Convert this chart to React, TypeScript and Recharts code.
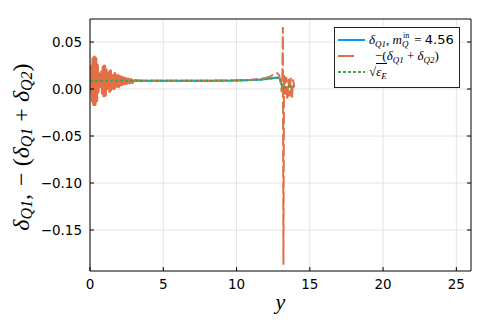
import React from "react";
import {
  LineChart,
  Line,
  XAxis,
  YAxis,
  CartesianGrid,
  Legend,
  Label,
} from "recharts";

// x positions / values
const burstX = [
  0, 0.05, 0.1, 0.15, 0.2, 0.25, 0.3, 0.35, 0.4, 0.45, 0.5, 0.55, 0.6, 0.65, 0.7, 0.75, 0.8, 0.85, 0.9, 0.95,
  1.0, 1.05, 1.1, 1.15, 1.2, 1.25, 1.3, 1.35, 1.4, 1.45, 1.5, 1.55, 1.6, 1.65, 1.7, 1.75, 1.8, 1.85, 1.9, 1.95,
  2.0, 2.05, 2.1, 2.15, 2.2, 2.25, 2.3, 2.35, 2.4, 2.5, 2.6, 2.7, 2.8, 2.9, 3.0,
];
const burstY = [
  0.0125, -0.0015, 0.0245, -0.0125, 0.0325, -0.0165, 0.034, -0.0165, 0.0325, -0.0125, 0.0255, -0.0035, 0.0165, 0.0035, 0.0125, 0.0025, 0.0185, -0.0045, 0.0235, -0.0075,
  0.0245, -0.0065, 0.0205, 0.0005, 0.0135, 0.0025, 0.0175, -0.0025, 0.0195, -0.0005, 0.0145, 0.0045, 0.0145, 0.0005, 0.0165, 0.0025, 0.0125, 0.0035, 0.0145, 0.0025,
  0.0135, 0.0045, 0.0125, 0.0045, 0.0125, 0.0055, 0.0115, 0.0055, 0.0115, 0.006, 0.0105, 0.0065, 0.01, 0.007, 0.0095,
];

const sumX = [
  3.0, 3.5, 4, 5, 6, 7, 8, 9, 10, 10.5, 11, 11.5, 12, 12.3, 12.6, 12.75, 12.9, 13.0, 13.08, 13.12, 13.16, 13.2,
  13.24, 13.3, 13.38, 13.46, 13.54, 13.62, 13.7, 13.78, 13.86, 13.94,
];
const sumY = [
  0.0095, 0.0088, 0.0087, 0.0087, 0.0087, 0.0088, 0.0089, 0.009, 0.0093, 0.0096, 0.01, 0.0106, 0.0118, 0.0135, 0.016, 0.0173, 0.015, 0.008, -0.003, 0.004, 0.066, -0.187,
  0.015, -0.006, 0.013, -0.012, 0.011, -0.008, 0.012, -0.011, 0.01, 0.003,
];

const q1X = [0, 1, 2, 3, 5, 8, 10, 11, 11.5, 12, 12.4, 12.7, 12.9, 13.0, 13.1, 13.2, 13.4, 13.6, 13.8, 13.95];
const q1Y = [0.0088, 0.0088, 0.0087, 0.0087, 0.0087, 0.0088, 0.0091, 0.0096, 0.01, 0.0106, 0.0115, 0.0122, 0.012, 0.0095, 0.003, -0.001, 0.002, 0.0025, 0.0025, 0.0025];

const epsX = [0, 1, 2, 3, 5, 8, 10, 11, 11.5, 12, 12.4, 12.7, 12.9, 13.0, 13.1, 13.2, 13.4, 13.6, 13.8, 13.95];
const epsY = [0.0086, 0.0087, 0.0087, 0.0087, 0.0087, 0.0088, 0.009, 0.0095, 0.0099, 0.0104, 0.0112, 0.0118, 0.0116, 0.0095, 0.004, 0.001, 0.0025, 0.0028, 0.0028, 0.0028];

const xTicks = [0, 5, 10, 15, 20, 25];
const yTicks = [-0.15, -0.1, -0.05, 0, 0.05];

const zip = (xs: number[], ys: number[]) => xs.map((x, i) => ({ x, y: ys[i] }));
const burst = zip(burstX, burstY);
const sum = zip(sumX, sumY);
const q1 = zip(q1X, q1Y);
const eps = zip(epsX, epsY);

const BLUE = "#009AFA";
const ORANGE = "#E36F47";
const GREEN = "#3EA44E";
const TICK_FONT = "'DejaVu Sans', sans-serif";
const MATH_FONT = "'Liberation Serif', 'DejaVu Serif', serif";

const fmt = (v: number) => (v < 0 ? "\u2212" + Math.abs(v).toFixed(2) : v.toFixed(2));

const BottomTick = (p: any) => (
  <g>
    <line x1={p.x} x2={p.x} y1={p.y} y2={p.y - 4} stroke="#000" />
    <text x={p.x} y={p.y + 13} textAnchor="middle" dominantBaseline="central" fontSize={13.5} fontFamily={TICK_FONT} fill="#000">
      {p.payload.value}
    </text>
  </g>
);
const TopTick = (p: any) => <line x1={p.x} x2={p.x} y1={p.y} y2={p.y + 4} stroke="#000" />;
const LeftTick = (p: any) => (
  <g>
    <line x1={p.x} x2={p.x + 4} y1={p.y} y2={p.y} stroke="#000" />
    <text x={p.x - 8} y={p.y} textAnchor="end" dominantBaseline="central" fontSize={13.5} fontFamily={TICK_FONT} fill="#000">
      {fmt(p.payload.value)}
    </text>
  </g>
);
const RightTick = (p: any) => <line x1={p.x} x2={p.x - 4} y1={p.y} y2={p.y} stroke="#000" />;

const sub: React.CSSProperties = { fontSize: 9, verticalAlign: -3, fontStyle: "italic", lineHeight: "10px" };

const Sample = ({ color, dash }: { color: string; dash?: string }) => (
  <svg width={27} height={8} style={{ marginRight: 4, flex: "none" }}>
    <line x1={0} x2={27} y1={4} y2={4} stroke={color} strokeWidth={2} strokeDasharray={dash} />
  </svg>
);

const LegendBox = () => (
  <div
    style={{
      border: "1px solid #222",
      background: "#fff",
      width: 121,
      height: 55,
      padding: "4px 0 0 3px",
      fontFamily: MATH_FONT,
      fontSize: 13,
      lineHeight: "16px",
      color: "#000",
      boxSizing: "content-box",
    }}
  >
    <div style={{ display: "flex", alignItems: "center", height: 16 }}>
      <Sample color={BLUE} />
      <span style={{ whiteSpace: "nowrap" }}>
        <i>δ</i>
        <span style={sub}>Q1</span>, <i>m</i>
        <span style={{ position: "relative", display: "inline-block", width: 9, height: 0 }}>
          <span style={{ position: "absolute", left: 1, top: -13, fontSize: 8, lineHeight: "10px" }}>in</span>
          <i style={{ position: "absolute", left: 0, top: -5, fontSize: 9, lineHeight: "10px" }}>Q</i>
        </span>{" "}
        = <span style={{ fontFamily: TICK_FONT, fontSize: 13 }}>4.56</span>
      </span>
    </div>
    <div style={{ display: "flex", alignItems: "center", height: 16 }}>
      <Sample color={ORANGE} dash="16 11" />
      <span style={{ whiteSpace: "nowrap", marginLeft: 6 }}>
        −(<i>δ</i>
        <span style={sub}>Q1</span> + <i>δ</i>
        <span style={sub}>Q2</span>)
      </span>
    </div>
    <div style={{ display: "flex", alignItems: "center", height: 16 }}>
      <Sample color={GREEN} dash="3 2" />
      <span style={{ whiteSpace: "nowrap" }}>
        √<span style={{ borderTop: "1px solid #000" }}>
          <i>ε</i>
          <span style={sub}>E</span>
        </span>
      </span>
    </div>
  </div>
);

const YLabel = (props: any) => {
  const vb = props.viewBox;
  const cx = vb.x + 21;
  const cy = vb.y + vb.height / 2 + 2;
  return (
    <text
      x={cx}
      y={cy}
      transform={`rotate(-90 ${cx} ${cy})`}
      textAnchor="middle"
      dominantBaseline="central"
      fontFamily={MATH_FONT}
      fontSize={24}
      fill="#000"
    >
      <tspan fontStyle="italic">δ</tspan>
      <tspan fontSize={16} fontStyle="italic" dy={5}>Q1</tspan>
      <tspan dy={-5}>,</tspan>
      <tspan dx={8}>−</tspan>
      <tspan dx={6}>(</tspan>
      <tspan fontStyle="italic">δ</tspan>
      <tspan fontSize={16} fontStyle="italic" dy={5}>Q1</tspan>
      <tspan dy={-5} dx={6}>+</tspan>
      <tspan fontStyle="italic" dx={6}>δ</tspan>
      <tspan fontSize={16} fontStyle="italic" dy={5}>Q2</tspan>
      <tspan dy={-5}>)</tspan>
    </text>
  );
};

const XLabel = (props: any) => {
  const vb = props.viewBox;
  return (
    <text
      x={vb.x + vb.width / 2}
      y={vb.y + 30}
      textAnchor="middle"
      dominantBaseline="central"
      fontFamily={MATH_FONT}
      fontStyle="italic"
      fontSize={22}
      fill="#000"
    >
      y
    </text>
  );
};

export default function App() {
  return (
    <div style={{ width: 491, height: 327, background: "#fff", position: "relative" }}>
      <style>{"body{margin:0}"}</style>
      <LineChart width={491} height={327} margin={{ top: 0, right: 0, bottom: 0, left: 0 }}>
        <CartesianGrid
          xAxisId="b"
          yAxisId="l"
          stroke="#e4e4e4"
          strokeWidth={1}
          horizontalValues={yTicks}
          verticalValues={xTicks}
        />
        <XAxis
          xAxisId="b"
          type="number"
          dataKey="x"
          domain={[0, 26]}
          ticks={xTicks}
          allowDataOverflow
          orientation="bottom"
          height={56}
          tickSize={0}
          tickMargin={0}
          tickLine={false}
          tick={BottomTick}
          axisLine={{ stroke: "#000" }}
          interval={0}
        >
          <Label content={XLabel} />
        </XAxis>
        <XAxis
          xAxisId="t"
          type="number"
          domain={[0, 26]}
          ticks={xTicks}
          allowDataOverflow
          orientation="top"
          height={19}
          tickSize={0}
          tickMargin={0}
          tickLine={false}
          tick={TopTick}
          axisLine={{ stroke: "#000" }}
          interval={0}
        />
        <YAxis
          yAxisId="l"
          type="number"
          domain={[-0.1936, 0.0745]}
          ticks={yTicks}
          allowDataOverflow
          orientation="left"
          width={90}
          tickSize={0}
          tickMargin={0}
          tickLine={false}
          tick={LeftTick}
          axisLine={{ stroke: "#000" }}
          interval={0}
        >
          <Label content={YLabel} />
        </YAxis>
        <YAxis
          yAxisId="r"
          type="number"
          domain={[-0.1936, 0.0745]}
          ticks={yTicks}
          allowDataOverflow
          orientation="right"
          width={20}
          tickSize={0}
          tickMargin={0}
          tickLine={false}
          tick={RightTick}
          axisLine={{ stroke: "#000" }}
          interval={0}
        />
        <Line
          xAxisId="b"
          yAxisId="l"
          data={q1}
          dataKey="y"
          stroke={BLUE}
          strokeWidth={2}
          dot={false}
          isAnimationActive={false}
        />
        <Line
          xAxisId="b"
          yAxisId="l"
          data={burst}
          dataKey="y"
          type="linear"
          stroke={ORANGE}
          strokeWidth={3}
          strokeLinejoin="round"
          dot={false}
          legendType="none"
          isAnimationActive={false}
        />
        <Line
          xAxisId="b"
          yAxisId="l"
          data={sum}
          dataKey="y"
          type="linear"
          stroke={ORANGE}
          strokeWidth={2}
          strokeDasharray="12 4"
          dot={false}
          isAnimationActive={false}
        />
        <Line
          xAxisId="b"
          yAxisId="l"
          data={eps}
          dataKey="y"
          stroke={GREEN}
          strokeWidth={2}
          strokeDasharray="3 2"
          dot={false}
          isAnimationActive={false}
        />
        <Legend
          layout="horizontal"
          verticalAlign="middle"
          align="center"
          content={LegendBox}
          wrapperStyle={{ position: "absolute", top: 27, left: 334, width: "auto" }}
        />
      </LineChart>
    </div>
  );
}
